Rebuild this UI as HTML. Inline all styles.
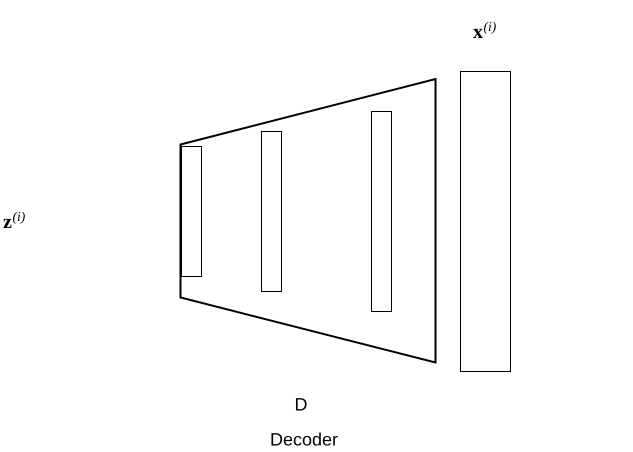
<!DOCTYPE html>
<html>
<head>
<meta charset="utf-8">
<style>
html,body{margin:0;padding:0;background:#fff;}
svg{display:block;}
text{fill:#000;text-rendering:geometricPrecision;}
.sans{font-family:"Liberation Sans",sans-serif;font-size:18px;}
.math{font-family:"Liberation Serif",serif;}
</style>
</head>
<body>
<svg width="633" height="452" viewBox="0 0 633 452" xmlns="http://www.w3.org/2000/svg">
<polygon points="180.5,144.5 435.5,79 435.5,362.5 180.5,297.5" fill="none" stroke="#000" stroke-width="2"/>
<rect x="181.5" y="146.5" width="20" height="130" fill="none" stroke="#000" stroke-width="1"/>
<rect x="261.5" y="131.5" width="20" height="160" fill="none" stroke="#000" stroke-width="1"/>
<rect x="371.5" y="111.5" width="20" height="200" fill="none" stroke="#000" stroke-width="1"/>
<rect x="460.5" y="71.5" width="50" height="300" fill="none" stroke="#000" stroke-width="1"/>
<g>
<text class="math" x="3" y="228" font-size="20" font-weight="bold">z</text>
<text class="math" x="12.5" y="221" font-size="13.5" font-style="italic">(i)</text>
</g>
<g>
<text class="math" x="473" y="38" font-size="20" font-weight="bold">x</text>
<text class="math" x="483.5" y="31" font-size="13.5" font-style="italic">(i)</text>
</g>
<text class="sans" x="294.500" y="410.500">D</text>
<text class="sans" x="270" y="445.500" textLength="68" lengthAdjust="spacingAndGlyphs">Decoder</text>
</svg>
</body>
</html>
